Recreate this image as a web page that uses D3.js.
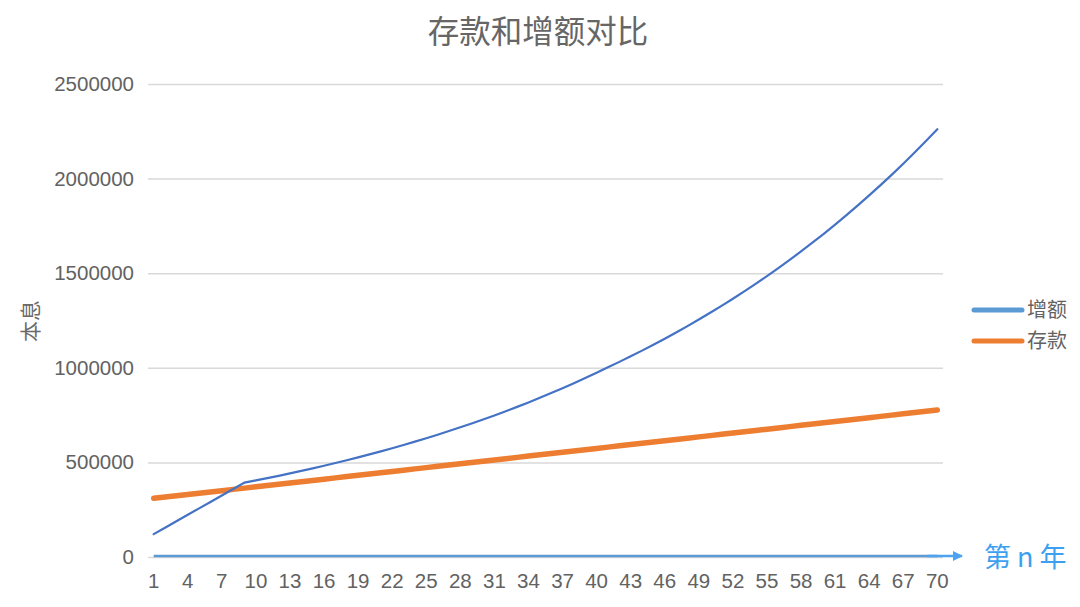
<!DOCTYPE html>
<html>
<head>
<meta charset="utf-8">
<script src="https://cdn.jsdelivr.net/npm/d3@7"></script>
<style>
  html, body { margin: 0; padding: 0; background: #fff; }
  svg { display: block; }
</style>
</head>
<body>
<svg id="chart" width="1080" height="607"></svg>
<script>
// ---- data ----
const years = d3.range(1, 71);
const xTickLabels = [1, 4, 7, 10, 13, 16, 19, 22, 25, 28, 31, 34, 37, 40, 43, 46, 49, 52, 55, 58, 61, 64, 67, 70];
const yTicks = [0, 500000, 1000000, 1500000, 2000000, 2500000];
const seriesNames = ["增额", "存款"];
const zengE = [
  121000, 155000, 189000, 223000, 257000, 291000, 325000, 359000, 393000, 404700,
  416700, 429100, 441800, 455000, 468500, 482400, 496700, 511500, 526700, 542300,
  558400, 575000, 592100, 609700, 627800, 646400, 665600, 685400, 705800, 726700,
  748300, 770600, 793400, 817000, 841300, 866300, 892000, 918500, 945800, 973900,
  1002800, 1031300, 1060600, 1090800, 1121800, 1153700, 1186500, 1220200, 1254900, 1290600,
  1327300, 1365000, 1403800, 1443700, 1484800, 1527000, 1570400, 1615100, 1661000, 1708200,
  1756800, 1806800, 1858100, 1911000, 1965300, 2021200, 2078700, 2137800, 2198600, 2261100
];
const cunKuan = [
  310000, 316800, 323500, 330300, 337100, 343800, 350600, 357400, 364100, 370900,
  377700, 384400, 391200, 398000, 404800, 411500, 418300, 425100, 431800, 438600,
  445400, 452100, 458900, 465700, 472400, 479200, 486000, 492700, 499500, 506300,
  513000, 519800, 526600, 533400, 540100, 546900, 553700, 560400, 567200, 574000,
  580700, 587500, 594300, 601000, 607800, 614600, 621300, 628100, 634900, 641600,
  648400, 655200, 662000, 668700, 675500, 682300, 689000, 695800, 702600, 709300,
  716100, 722900, 729600, 736400, 743200, 749900, 756700, 763500, 770300, 777000
];
const baseline = years.map(() => 0);
const title = "存款和增额对比";
const yTitle = "本息";
const xArrowLabel = "第 n 年";

// ---- layout ----
const svg = d3.select("#chart");
const plotLeft = 148, plotRight = 943, plotTop = 84, plotBottom = 557;
const x = d3.scaleBand().domain(years).range([plotLeft, plotRight]).padding(0);
const cx = d => x(d) + x.bandwidth() / 2;
const y = d3.scaleLinear().domain([0, 2500000]).range([plotBottom, plotTop]);

const textColor = "#626262";
const numFont = "'Liberation Sans', Arial, sans-serif";
const cjkFont = "'Noto Sans CJK SC', 'Noto Sans', sans-serif";

// gridlines
const yAxis = d3.axisLeft(y).tickValues(yTicks).tickSize(-(plotRight - plotLeft)).tickFormat(d3.format("d")).tickPadding(14);
const gy = svg.append("g").attr("transform", `translate(${plotLeft},0)`).call(yAxis);
gy.select(".domain").remove();
gy.selectAll(".tick line").attr("stroke", "#d9d9d9").attr("stroke-width", 1.5);
gy.selectAll(".tick text").attr("fill", textColor).attr("font-size", 20.5).attr("font-family", numFont);

// x axis labels
const xAxis = d3.axisBottom(x).tickValues(xTickLabels).tickSize(0).tickPadding(16);
const gx = svg.append("g").attr("transform", `translate(0,${plotBottom})`).call(xAxis);
gx.select(".domain").remove();
gx.selectAll(".tick text").attr("fill", textColor).attr("font-size", 20.5).attr("font-family", numFont);

// flat baseline (axis arrow)
svg.append("defs").append("marker")
  .attr("id", "arrow").attr("viewBox", "0 0 10 10").attr("refX", 9).attr("refY", 5)
  .attr("markerWidth", 4).attr("markerHeight", 4).attr("orient", "auto")
  .append("path").attr("d", "M0,0 L10,5 L0,10 z").attr("fill", "#4da3f0");

svg.append("path")
  .attr("d", d3.line().x(d => cx(d)).y((d, i) => y(baseline[i]) - 1)(years))
  .attr("fill", "none").attr("stroke", "#5b9bd5").attr("stroke-width", 2.5);
svg.append("line")
  .attr("x1", cx(70) - 10).attr("x2", 962)
  .attr("y1", y(0) - 1).attr("y2", y(0) - 1)
  .attr("stroke", "#4da3f0").attr("stroke-width", 2.5)
  .attr("marker-end", "url(#arrow)");

svg.append("text")
  .attr("x", 984).attr("y", y(0) + 10)
  .attr("fill", "#3d9ff0").attr("font-size", 27).attr("font-family", cjkFont)
  .text(xArrowLabel);

// series lines
const line = d3.line().x((d, i) => cx(years[i])).y(d => y(d));
svg.append("path").datum(cunKuan).attr("d", line)
  .attr("fill", "none").attr("stroke", "#ed7d31").attr("stroke-width", 5.5).attr("stroke-linecap", "round");
svg.append("path").datum(zengE).attr("d", line)
  .attr("fill", "none").attr("stroke", "#4472c4").attr("stroke-width", 2.2).attr("stroke-linecap", "round");

// title
svg.append("text").attr("x", 538).attr("y", 43).attr("text-anchor", "middle")
  .attr("fill", "#666666").attr("font-size", 31.5).attr("font-family", cjkFont).text(title);

// y title
svg.append("text").attr("transform", "translate(38,321) rotate(-90)").attr("text-anchor", "middle")
  .attr("fill", "#6a6a6a").attr("font-size", 21).attr("font-family", cjkFont).text(yTitle);

// legend
const legendColors = ["#5b9bd5", "#ed7d31"];
const lg = svg.append("g");
seriesNames.forEach((name, i) => {
  const ly = 310 + i * 31;
  lg.append("line").attr("x1", 974).attr("x2", 1022).attr("y1", ly).attr("y2", ly)
    .attr("stroke", legendColors[i]).attr("stroke-width", 5).attr("stroke-linecap", "round");
  lg.append("text").attr("x", 1027).attr("y", ly + 7).attr("fill", textColor)
    .attr("font-size", 20).attr("font-family", cjkFont).text(name);
});
</script>
</body>
</html>
